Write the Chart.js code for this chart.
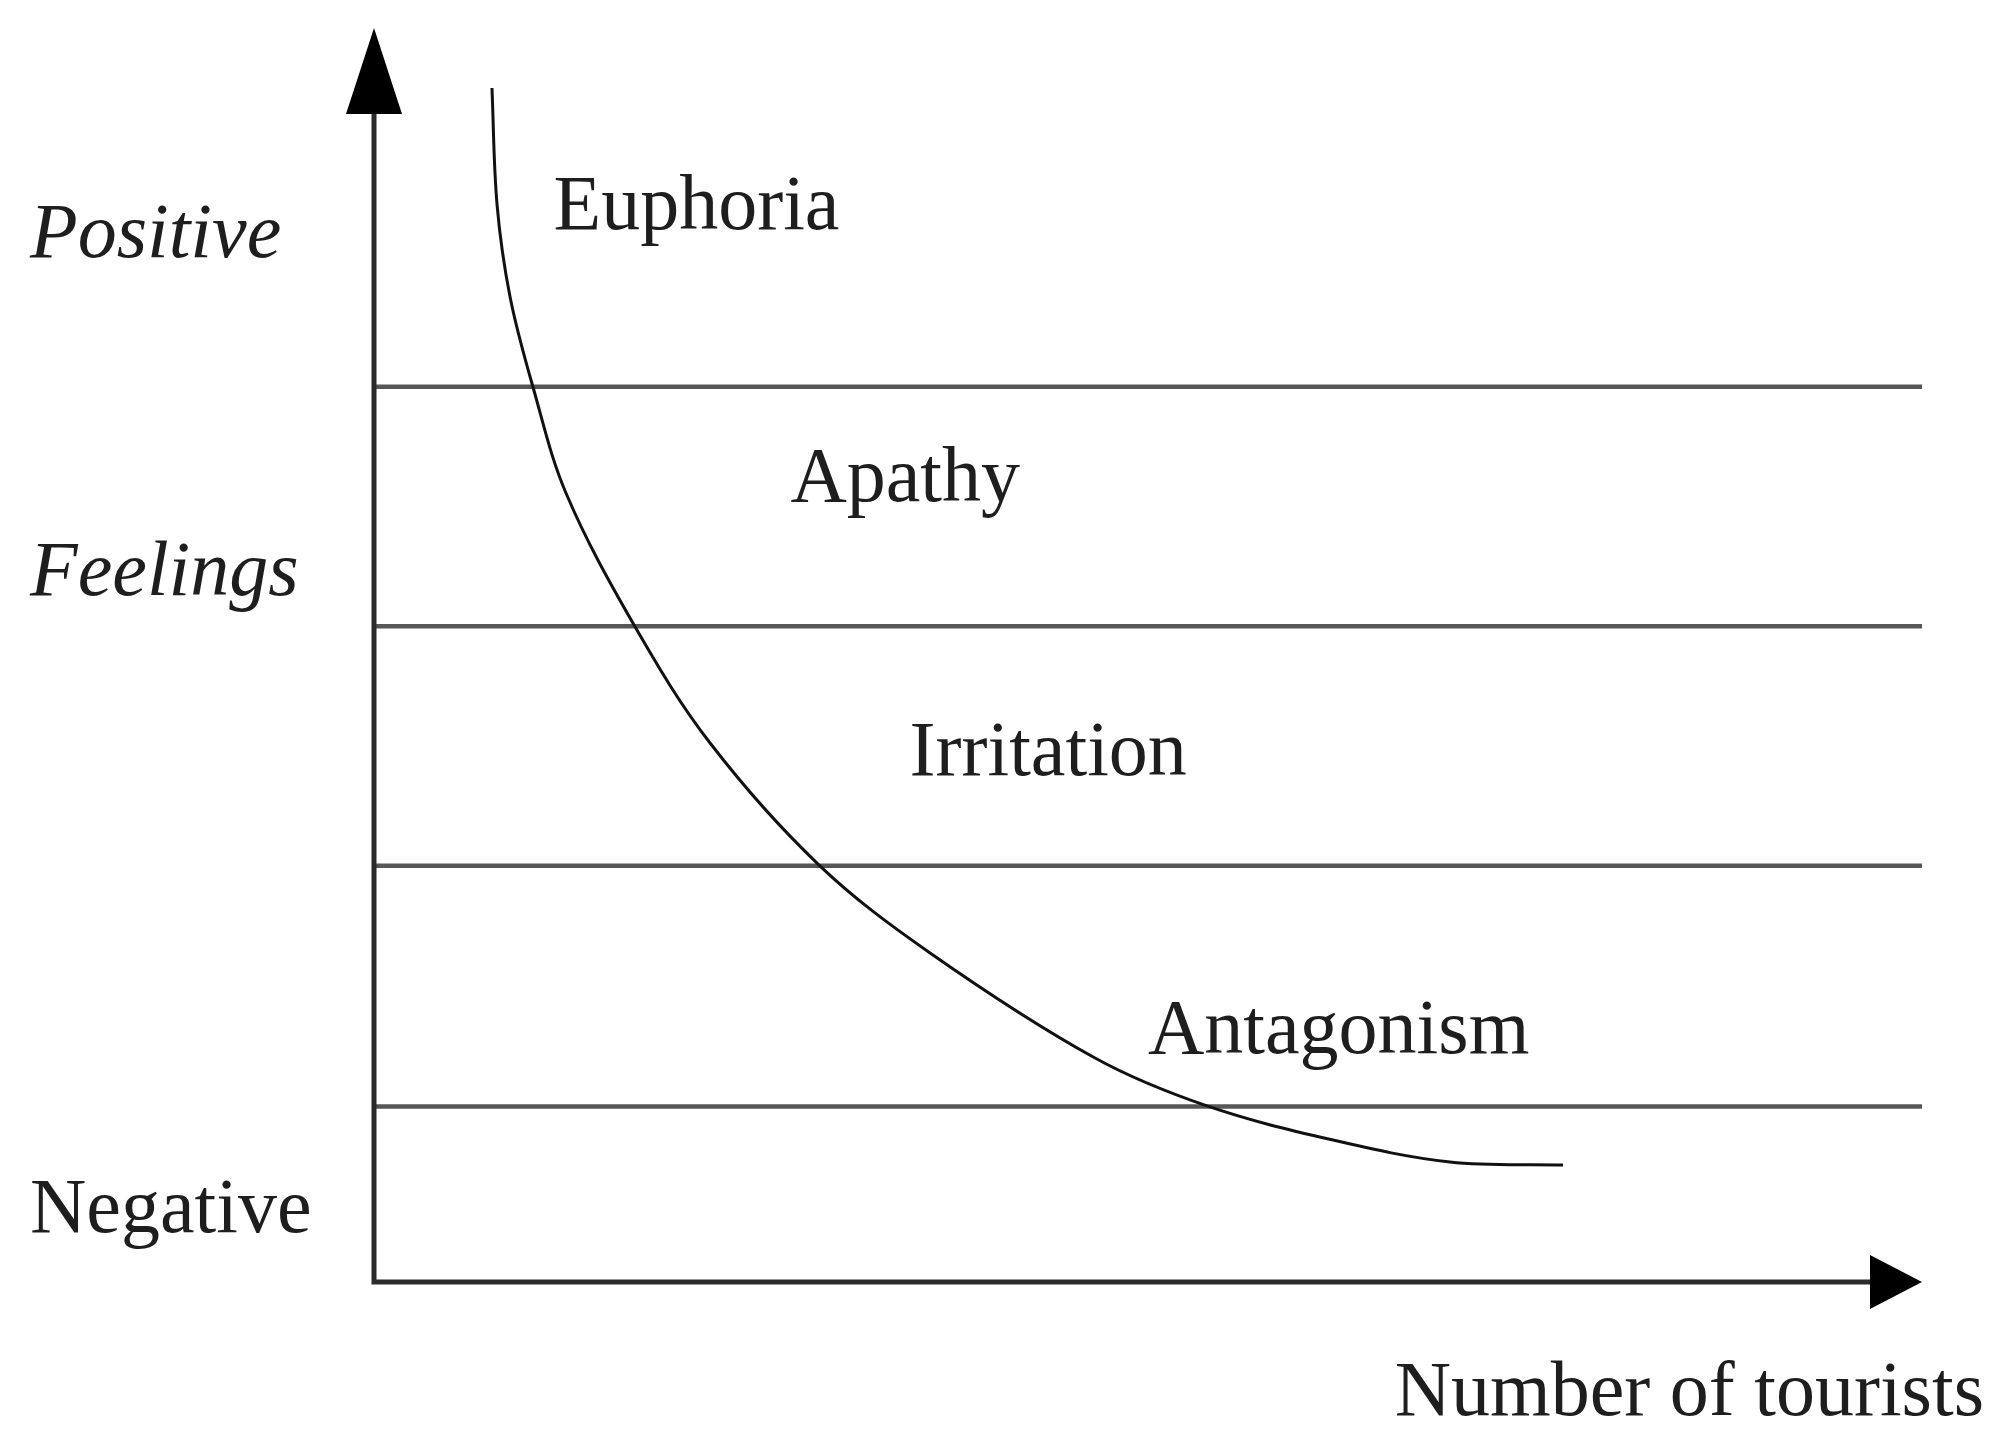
<!DOCTYPE html>
<html>
<head>
<meta charset="utf-8">
<title>Number of tourists and residents' feelings</title>
<script src="https://cdn.jsdelivr.net/npm/chart.js@4.4.1/dist/chart.umd.min.js"></script>
<style>
  html, body { margin: 0; padding: 0; background: #fff; }
  #wrap { width: 2000px; height: 1444px; }
</style>
</head>
<body>
<div id="wrap"><canvas id="chart"></canvas></div>
<script>
// curve: x = number of tourists, y = feelings (both 0..100)
const curveX = [7.62, 7.95, 8.79, 10.27, 12.40, 16.80, 21.71, 28.75, 35.92, 46.58, 53.81, 61.95, 69.51, 76.81];
const curveY = [95.22, 85.89, 78.55, 71.37, 62.92, 52.39, 42.98, 33.25, 26.24, 17.86, 14.04, 11.32, 9.57, 9.33];

// borders between the feeling bands
const bandLevels = [71.4, 52.3, 33.2, 14.0];

// band names and where they sit (data units, baseline)
const bandNames = ["Euphoria", "Apathy", "Irritation", "Antagonism"];
const bandNameX = [11.6, 26.9, 34.6, 50.0];
const bandNameY = [84.0, 62.3, 40.4, 18.3];

// labels left of the vertical axis
const feelingLabels = ["Positive", "Feelings", "Negative"];
const feelingItalic = [true, true, false];
const feelingLabelY = [81.7, 54.8, 4.0];

const xTitle = "Number of tourists";

const FONT = '"Liberation Serif", "Times New Roman", serif';

// axes with arrowheads + all the text
const axesAndText = {
  id: "axesAndText",
  afterDatasetsDraw(chart) {
    const { ctx, chartArea: a, scales } = chart;
    const x = scales.x, y = scales.y;
    ctx.save();

    // axis lines
    ctx.strokeStyle = "#2b2b2b";
    ctx.lineWidth = 5;
    ctx.beginPath();
    ctx.moveTo(a.left, a.top + 60);
    ctx.lineTo(a.left, a.bottom);
    ctx.lineTo(a.right - 40, a.bottom);
    ctx.stroke();

    // arrowheads
    ctx.fillStyle = "#000";
    ctx.beginPath();
    ctx.moveTo(a.left, a.top);
    ctx.lineTo(a.left - 28, a.top + 86);
    ctx.lineTo(a.left + 28, a.top + 86);
    ctx.closePath();
    ctx.fill();
    ctx.beginPath();
    ctx.moveTo(a.right, a.bottom);
    ctx.lineTo(a.right - 52, a.bottom - 27);
    ctx.lineTo(a.right - 52, a.bottom + 27);
    ctx.closePath();
    ctx.fill();

    // text
    ctx.fillStyle = "#1e1e1e";
    ctx.textAlign = "left";
    ctx.textBaseline = "alphabetic";
    ctx.font = "78px " + FONT;
    bandNames.forEach((name, i) => {
      ctx.fillText(name, x.getPixelForValue(bandNameX[i]), y.getPixelForValue(bandNameY[i]));
    });

    feelingLabels.forEach((lbl, i) => {
      ctx.font = (feelingItalic[i] ? "italic " : "") + "78px " + FONT;
      ctx.fillText(lbl, 30, y.getPixelForValue(feelingLabelY[i]));
    });

    ctx.font = "78px " + FONT;
    ctx.textAlign = "right";
    ctx.fillText(xTitle, chart.width - 16, y.getPixelForValue(-10.6));

    ctx.restore();
  }
};

const datasets = bandLevels.map((lvl) => ({
  data: [{ x: 0, y: lvl }, { x: 100, y: lvl }],
  borderColor: "#575757",
  borderWidth: 4.5,
  pointRadius: 0,
  order: 2
}));
datasets.push({
  data: curveX.map((v, i) => ({ x: v, y: curveY[i] })),
  borderColor: "#111",
  borderWidth: 3,
  pointRadius: 0,
  tension: 0.35,
  order: 1
});

new Chart(document.getElementById("chart"), {
  type: "line",
  data: { datasets },
  options: {
    responsive: true,
    maintainAspectRatio: false,
    animation: false,
    layout: { padding: { left: 374, top: 28, right: 78, bottom: 162 } },
    plugins: { legend: { display: false }, tooltip: { enabled: false } },
    scales: {
      x: { type: "linear", min: 0, max: 100, display: false },
      y: { type: "linear", min: 0, max: 100, display: false }
    }
  },
  plugins: [axesAndText]
});
</script>
</body>
</html>
